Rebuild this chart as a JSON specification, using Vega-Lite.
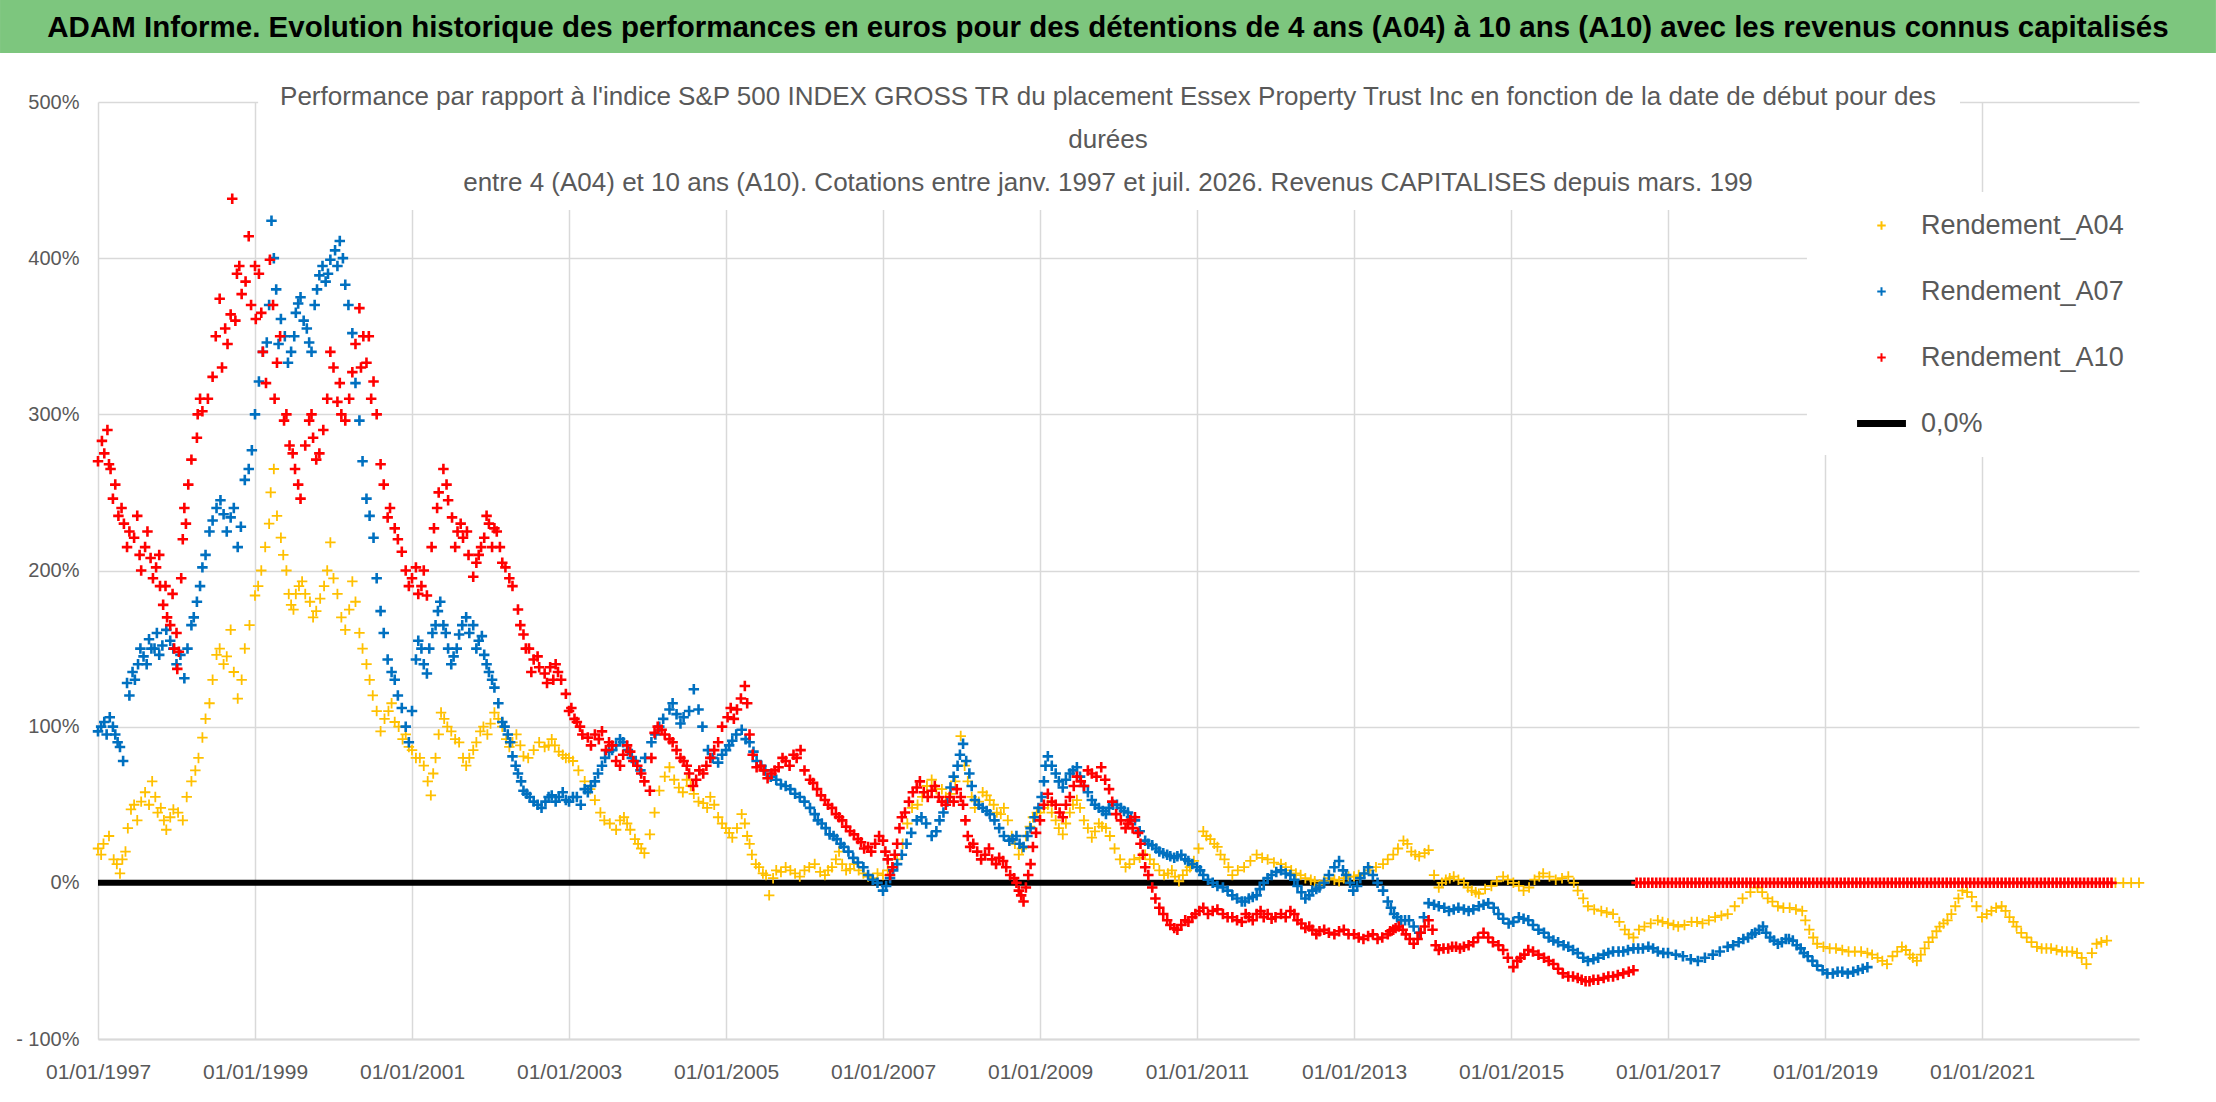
{
  "$schema": "https://vega.github.io/schema/vega-lite/v6.json",
  "autosize": {"type": "none"},
  "width": 2041,
  "height": 937,
  "padding": {"left": 98, "right": 77, "top": 102, "bottom": 63},
  "background": "white",
  "data": {
    "values": [
      {"s":"0,0%","t":1997.0,"v":0},{"s":"0,0%","t":2016.58,"v":0},
      {"s":"A04","t":1997.00,"v":22},{"s":"A04","t":1997.14,"v":30},{"s":"A04","t":1997.28,"v":6},{"s":"A04","t":1997.35,"v":20},{"s":"A04","t":1997.42,"v":47},{"s":"A04","t":1997.55,"v":52},{"s":"A04","t":1997.69,"v":65},{"s":"A04","t":1997.80,"v":48},{"s":"A04","t":1997.87,"v":34},{"s":"A04","t":1997.96,"v":47},
      {"s":"A04","t":1998.08,"v":40},{"s":"A04","t":1998.19,"v":65},{"s":"A04","t":1998.28,"v":80},{"s":"A04","t":1998.33,"v":93},{"s":"A04","t":1998.42,"v":115},{"s":"A04","t":1998.51,"v":146},{"s":"A04","t":1998.60,"v":140},{"s":"A04","t":1998.69,"v":162},{"s":"A04","t":1998.78,"v":118},{"s":"A04","t":1998.87,"v":150},
      {"s":"A04","t":1999.00,"v":184},{"s":"A04","t":1999.08,"v":200},{"s":"A04","t":1999.13,"v":215},{"s":"A04","t":1999.24,"v":265},{"s":"A04","t":1999.33,"v":221},{"s":"A04","t":1999.40,"v":200},{"s":"A04","t":1999.46,"v":178},{"s":"A04","t":1999.52,"v":185},{"s":"A04","t":1999.60,"v":193},{"s":"A04","t":1999.70,"v":180},{"s":"A04","t":1999.78,"v":174},{"s":"A04","t":1999.88,"v":190},{"s":"A04","t":1999.96,"v":218},
      {"s":"A04","t":2000.05,"v":185},{"s":"A04","t":2000.15,"v":162},{"s":"A04","t":2000.24,"v":193},{"s":"A04","t":2000.33,"v":160},{"s":"A04","t":2000.42,"v":140},{"s":"A04","t":2000.50,"v":120},{"s":"A04","t":2000.60,"v":97},{"s":"A04","t":2000.70,"v":110},{"s":"A04","t":2000.78,"v":103},{"s":"A04","t":2000.88,"v":92},{"s":"A04","t":2000.96,"v":87},
      {"s":"A04","t":2001.05,"v":80},{"s":"A04","t":2001.15,"v":75},{"s":"A04","t":2001.24,"v":56},{"s":"A04","t":2001.30,"v":80},{"s":"A04","t":2001.37,"v":109},{"s":"A04","t":2001.45,"v":100},{"s":"A04","t":2001.50,"v":97},{"s":"A04","t":2001.60,"v":90},{"s":"A04","t":2001.69,"v":75},{"s":"A04","t":2001.78,"v":85},{"s":"A04","t":2001.87,"v":97},{"s":"A04","t":2001.96,"v":95},
      {"s":"A04","t":2002.05,"v":109},{"s":"A04","t":2002.15,"v":100},{"s":"A04","t":2002.24,"v":87},{"s":"A04","t":2002.33,"v":95},{"s":"A04","t":2002.42,"v":81},{"s":"A04","t":2002.55,"v":85},{"s":"A04","t":2002.69,"v":87},{"s":"A04","t":2002.78,"v":92},{"s":"A04","t":2002.87,"v":84},{"s":"A04","t":2002.96,"v":80},
      {"s":"A04","t":2003.05,"v":78},{"s":"A04","t":2003.20,"v":65},{"s":"A04","t":2003.33,"v":53},{"s":"A04","t":2003.45,"v":40},{"s":"A04","t":2003.60,"v":34},{"s":"A04","t":2003.70,"v":42},{"s":"A04","t":2003.78,"v":34},{"s":"A04","t":2003.88,"v":25},{"s":"A04","t":2003.96,"v":19},
      {"s":"A04","t":2004.03,"v":31},{"s":"A04","t":2004.15,"v":59},{"s":"A04","t":2004.28,"v":74},{"s":"A04","t":2004.40,"v":61},{"s":"A04","t":2004.50,"v":66},{"s":"A04","t":2004.59,"v":57},{"s":"A04","t":2004.71,"v":51},{"s":"A04","t":2004.80,"v":55},{"s":"A04","t":2004.90,"v":42},
      {"s":"A04","t":2005.00,"v":35},{"s":"A04","t":2005.08,"v":29},{"s":"A04","t":2005.20,"v":44},{"s":"A04","t":2005.27,"v":30},{"s":"A04","t":2005.33,"v":18},{"s":"A04","t":2005.42,"v":10},{"s":"A04","t":2005.51,"v":5},{"s":"A04","t":2005.55,"v":-8},{"s":"A04","t":2005.64,"v":8},{"s":"A04","t":2005.76,"v":10},{"s":"A04","t":2005.88,"v":6},
      {"s":"A04","t":2006.00,"v":8},{"s":"A04","t":2006.13,"v":12},{"s":"A04","t":2006.26,"v":5},{"s":"A04","t":2006.35,"v":10},{"s":"A04","t":2006.44,"v":20},{"s":"A04","t":2006.53,"v":8},{"s":"A04","t":2006.63,"v":12},{"s":"A04","t":2006.75,"v":6},{"s":"A04","t":2006.87,"v":3},
      {"s":"A04","t":2007.00,"v":5},{"s":"A04","t":2007.12,"v":10},{"s":"A04","t":2007.25,"v":25},{"s":"A04","t":2007.37,"v":48},{"s":"A04","t":2007.50,"v":55},{"s":"A04","t":2007.62,"v":66},{"s":"A04","t":2007.75,"v":60},{"s":"A04","t":2007.86,"v":57},{"s":"A04","t":2007.99,"v":94},
      {"s":"A04","t":2008.08,"v":65},{"s":"A04","t":2008.17,"v":48},{"s":"A04","t":2008.27,"v":58},{"s":"A04","t":2008.36,"v":53},{"s":"A04","t":2008.45,"v":45},{"s":"A04","t":2008.54,"v":48},{"s":"A04","t":2008.64,"v":30},{"s":"A04","t":2008.73,"v":18},{"s":"A04","t":2008.82,"v":30},{"s":"A04","t":2008.91,"v":42},
      {"s":"A04","t":2009.00,"v":45},{"s":"A04","t":2009.10,"v":50},{"s":"A04","t":2009.20,"v":40},{"s":"A04","t":2009.29,"v":31},{"s":"A04","t":2009.38,"v":45},{"s":"A04","t":2009.47,"v":53},{"s":"A04","t":2009.56,"v":40},{"s":"A04","t":2009.66,"v":29},{"s":"A04","t":2009.75,"v":38},{"s":"A04","t":2009.84,"v":35},{"s":"A04","t":2009.95,"v":22},
      {"s":"A04","t":2010.09,"v":10},{"s":"A04","t":2010.20,"v":15},{"s":"A04","t":2010.34,"v":18},{"s":"A04","t":2010.45,"v":12},{"s":"A04","t":2010.58,"v":5},{"s":"A04","t":2010.68,"v":8},{"s":"A04","t":2010.77,"v":1},{"s":"A04","t":2010.87,"v":8},{"s":"A04","t":2010.96,"v":14},
      {"s":"A04","t":2011.08,"v":33},{"s":"A04","t":2011.17,"v":28},{"s":"A04","t":2011.26,"v":23},{"s":"A04","t":2011.35,"v":15},{"s":"A04","t":2011.45,"v":5},{"s":"A04","t":2011.60,"v":10},{"s":"A04","t":2011.76,"v":18},{"s":"A04","t":2011.90,"v":15},
      {"s":"A04","t":2012.07,"v":12},{"s":"A04","t":2012.20,"v":8},{"s":"A04","t":2012.32,"v":5},{"s":"A04","t":2012.45,"v":2},{"s":"A04","t":2012.56,"v":-1},{"s":"A04","t":2012.68,"v":3},{"s":"A04","t":2012.81,"v":1},{"s":"A04","t":2012.93,"v":4},
      {"s":"A04","t":2013.06,"v":5},{"s":"A04","t":2013.20,"v":8},{"s":"A04","t":2013.37,"v":12},{"s":"A04","t":2013.50,"v":18},{"s":"A04","t":2013.63,"v":27},{"s":"A04","t":2013.73,"v":20},{"s":"A04","t":2013.83,"v":17},{"s":"A04","t":2013.95,"v":21},
      {"s":"A04","t":2014.08,"v":-3},{"s":"A04","t":2014.17,"v":2},{"s":"A04","t":2014.27,"v":4},{"s":"A04","t":2014.40,"v":0},{"s":"A04","t":2014.50,"v":-5},{"s":"A04","t":2014.59,"v":-7},{"s":"A04","t":2014.75,"v":-2},{"s":"A04","t":2014.90,"v":4},
      {"s":"A04","t":2015.03,"v":0},{"s":"A04","t":2015.16,"v":-5},{"s":"A04","t":2015.30,"v":2},{"s":"A04","t":2015.41,"v":6},{"s":"A04","t":2015.57,"v":2},{"s":"A04","t":2015.73,"v":4},{"s":"A04","t":2015.85,"v":-5},{"s":"A04","t":2015.98,"v":-15},
      {"s":"A04","t":2016.15,"v":-18},{"s":"A04","t":2016.30,"v":-20},{"s":"A04","t":2016.45,"v":-30},{"s":"A04","t":2016.56,"v":-35},{"s":"A04","t":2016.70,"v":-28},{"s":"A04","t":2016.87,"v":-24},
      {"s":"A04","t":2017.00,"v":-26},{"s":"A04","t":2017.13,"v":-28},{"s":"A04","t":2017.30,"v":-25},{"s":"A04","t":2017.44,"v":-26},{"s":"A04","t":2017.60,"v":-22},{"s":"A04","t":2017.76,"v":-20},{"s":"A04","t":2017.95,"v":-10},
      {"s":"A04","t":2018.14,"v":-3},{"s":"A04","t":2018.27,"v":-10},{"s":"A04","t":2018.40,"v":-15},{"s":"A04","t":2018.55,"v":-16},{"s":"A04","t":2018.71,"v":-18},{"s":"A04","t":2018.80,"v":-30},{"s":"A04","t":2018.90,"v":-39},
      {"s":"A04","t":2019.06,"v":-42},{"s":"A04","t":2019.22,"v":-43},{"s":"A04","t":2019.38,"v":-44},{"s":"A04","t":2019.54,"v":-45},{"s":"A04","t":2019.67,"v":-48},{"s":"A04","t":2019.79,"v":-52},{"s":"A04","t":2019.98,"v":-41},
      {"s":"A04","t":2020.08,"v":-46},{"s":"A04","t":2020.17,"v":-50},{"s":"A04","t":2020.27,"v":-42},{"s":"A04","t":2020.37,"v":-35},{"s":"A04","t":2020.46,"v":-28},{"s":"A04","t":2020.56,"v":-24},{"s":"A04","t":2020.66,"v":-15},{"s":"A04","t":2020.75,"v":-5},{"s":"A04","t":2020.87,"v":-9},
      {"s":"A04","t":2021.00,"v":-22},{"s":"A04","t":2021.12,"v":-18},{"s":"A04","t":2021.25,"v":-15},{"s":"A04","t":2021.35,"v":-22},{"s":"A04","t":2021.44,"v":-28},{"s":"A04","t":2021.57,"v":-35},{"s":"A04","t":2021.70,"v":-41},{"s":"A04","t":2021.82,"v":-42},{"s":"A04","t":2021.95,"v":-43},
      {"s":"A04","t":2022.08,"v":-44},{"s":"A04","t":2022.21,"v":-45},{"s":"A04","t":2022.33,"v":-52},{"s":"A04","t":2022.46,"v":-39},{"s":"A04","t":2022.59,"v":-37},
      {"s":"A04","t":2022.70,"v":0},{"s":"A04","t":2022.80,"v":0},{"s":"A04","t":2022.90,"v":0},{"s":"A04","t":2023.00,"v":0},
      {"s":"A04","t":1997.04,"v":18},{"s":"A04","t":1997.07,"v":25},{"s":"A04","t":1997.20,"v":15},{"s":"A04","t":1997.24,"v":12},{"s":"A04","t":1997.31,"v":15},{"s":"A04","t":1997.38,"v":35},{"s":"A04","t":1997.46,"v":50},{"s":"A04","t":1997.50,"v":40},{"s":"A04","t":1997.60,"v":58},{"s":"A04","t":1997.65,"v":50},{"s":"A04","t":1997.73,"v":55},{"s":"A04","t":1997.76,"v":45},{"s":"A04","t":1997.84,"v":40},{"s":"A04","t":1997.92,"v":42},
      {"s":"A04","t":1998.02,"v":45},{"s":"A04","t":1998.13,"v":55},{"s":"A04","t":1998.24,"v":72},{"s":"A04","t":1998.37,"v":105},{"s":"A04","t":1998.46,"v":130},{"s":"A04","t":1998.55,"v":150},{"s":"A04","t":1998.64,"v":145},{"s":"A04","t":1998.73,"v":135},{"s":"A04","t":1998.83,"v":130},{"s":"A04","t":1998.93,"v":165},
      {"s":"A04","t":1999.04,"v":190},{"s":"A04","t":1999.18,"v":230},{"s":"A04","t":1999.20,"v":250},{"s":"A04","t":1999.28,"v":235},{"s":"A04","t":1999.36,"v":210},{"s":"A04","t":1999.43,"v":185},{"s":"A04","t":1999.49,"v":175},{"s":"A04","t":1999.56,"v":190},{"s":"A04","t":1999.64,"v":185},{"s":"A04","t":1999.74,"v":170},{"s":"A04","t":1999.83,"v":182},{"s":"A04","t":1999.92,"v":200},
      {"s":"A04","t":2000.00,"v":195},{"s":"A04","t":2000.10,"v":170},{"s":"A04","t":2000.20,"v":175},{"s":"A04","t":2000.28,"v":180},{"s":"A04","t":2000.37,"v":150},{"s":"A04","t":2000.46,"v":130},{"s":"A04","t":2000.55,"v":110},{"s":"A04","t":2000.65,"v":105},{"s":"A04","t":2000.74,"v":115},{"s":"A04","t":2000.83,"v":100},{"s":"A04","t":2000.92,"v":95},
      {"s":"A04","t":2001.00,"v":85},{"s":"A04","t":2001.10,"v":80},{"s":"A04","t":2001.20,"v":65},{"s":"A04","t":2001.27,"v":70},{"s":"A04","t":2001.34,"v":95},{"s":"A04","t":2001.41,"v":105},{"s":"A04","t":2001.55,"v":92},{"s":"A04","t":2001.65,"v":80},{"s":"A04","t":2001.73,"v":80},{"s":"A04","t":2001.82,"v":90},{"s":"A04","t":2001.91,"v":100},
      {"s":"A04","t":2002.00,"v":102},{"s":"A04","t":2002.10,"v":105},{"s":"A04","t":2002.20,"v":92},{"s":"A04","t":2002.28,"v":90},{"s":"A04","t":2002.38,"v":88},{"s":"A04","t":2002.48,"v":80},{"s":"A04","t":2002.62,"v":90},{"s":"A04","t":2002.74,"v":88},{"s":"A04","t":2002.82,"v":88},{"s":"A04","t":2002.92,"v":82},
      {"s":"A04","t":2003.00,"v":80},{"s":"A04","t":2003.12,"v":72},{"s":"A04","t":2003.27,"v":60},{"s":"A04","t":2003.40,"v":45},{"s":"A04","t":2003.52,"v":38},{"s":"A04","t":2003.65,"v":40},{"s":"A04","t":2003.74,"v":38},{"s":"A04","t":2003.84,"v":28},{"s":"A04","t":2003.92,"v":22},
      {"s":"A04","t":2004.09,"v":45},{"s":"A04","t":2004.22,"v":68},{"s":"A04","t":2004.34,"v":66},{"s":"A04","t":2004.45,"v":58},{"s":"A04","t":2004.55,"v":62},{"s":"A04","t":2004.65,"v":52},{"s":"A04","t":2004.76,"v":48},{"s":"A04","t":2004.85,"v":50},{"s":"A04","t":2004.95,"v":38},
      {"s":"A04","t":2005.04,"v":32},{"s":"A04","t":2005.14,"v":35},{"s":"A04","t":2005.24,"v":38},{"s":"A04","t":2005.30,"v":25},{"s":"A04","t":2005.38,"v":12},{"s":"A04","t":2005.47,"v":6},{"s":"A04","t":2005.60,"v":3},{"s":"A04","t":2005.70,"v":7},{"s":"A04","t":2005.82,"v":8},{"s":"A04","t":2005.94,"v":4},
      {"s":"A04","t":2006.06,"v":10},{"s":"A04","t":2006.20,"v":7},{"s":"A04","t":2006.30,"v":8},{"s":"A04","t":2006.40,"v":15},{"s":"A04","t":2006.48,"v":12},{"s":"A04","t":2006.58,"v":9},{"s":"A04","t":2006.69,"v":8},{"s":"A04","t":2006.81,"v":4},{"s":"A04","t":2006.93,"v":6},
      {"s":"A04","t":2007.06,"v":8},{"s":"A04","t":2007.18,"v":15},{"s":"A04","t":2007.31,"v":38},{"s":"A04","t":2007.44,"v":50},{"s":"A04","t":2007.56,"v":62},{"s":"A04","t":2007.68,"v":60},{"s":"A04","t":2007.80,"v":55},{"s":"A04","t":2007.92,"v":65},
      {"s":"A04","t":2008.04,"v":75},{"s":"A04","t":2008.13,"v":55},{"s":"A04","t":2008.22,"v":52},{"s":"A04","t":2008.32,"v":56},{"s":"A04","t":2008.41,"v":50},{"s":"A04","t":2008.50,"v":44},{"s":"A04","t":2008.59,"v":40},{"s":"A04","t":2008.68,"v":25},{"s":"A04","t":2008.77,"v":22},{"s":"A04","t":2008.87,"v":36},{"s":"A04","t":2008.96,"v":45},
      {"s":"A04","t":2009.05,"v":48},{"s":"A04","t":2009.15,"v":45},{"s":"A04","t":2009.24,"v":35},{"s":"A04","t":2009.33,"v":38},{"s":"A04","t":2009.42,"v":50},{"s":"A04","t":2009.51,"v":48},{"s":"A04","t":2009.61,"v":35},{"s":"A04","t":2009.70,"v":33},{"s":"A04","t":2009.79,"v":36},{"s":"A04","t":2009.89,"v":30},{"s":"A04","t":2010.02,"v":15},
      {"s":"A04","t":2010.14,"v":12},{"s":"A04","t":2010.27,"v":16},{"s":"A04","t":2010.40,"v":15},{"s":"A04","t":2010.52,"v":8},{"s":"A04","t":2010.63,"v":6},{"s":"A04","t":2010.72,"v":4},{"s":"A04","t":2010.82,"v":5},{"s":"A04","t":2010.91,"v":10},{"s":"A04","t":2011.02,"v":22},{"s":"A04","t":2011.12,"v":30},{"s":"A04","t":2011.22,"v":25},{"s":"A04","t":2011.30,"v":18},{"s":"A04","t":2011.40,"v":10},{"s":"A04","t":2011.52,"v":8},{"s":"A04","t":2011.68,"v":14},{"s":"A04","t":2011.83,"v":16},{"s":"A04","t":2011.98,"v":13},
      {"s":"A04","t":2012.13,"v":10},{"s":"A04","t":2012.26,"v":6},{"s":"A04","t":2012.38,"v":3},{"s":"A04","t":2012.50,"v":1},{"s":"A04","t":2012.62,"v":1},{"s":"A04","t":2012.75,"v":2},{"s":"A04","t":2012.87,"v":3},{"s":"A04","t":2013.00,"v":4},{"s":"A04","t":2013.13,"v":6},{"s":"A04","t":2013.28,"v":10},{"s":"A04","t":2013.43,"v":15},{"s":"A04","t":2013.56,"v":22},
      {"s":"A04","t":2013.68,"v":25},{"s":"A04","t":2013.78,"v":18},{"s":"A04","t":2013.90,"v":19},{"s":"A04","t":2014.02,"v":5},{"s":"A04","t":2014.12,"v":0},{"s":"A04","t":2014.22,"v":3},{"s":"A04","t":2014.33,"v":2},{"s":"A04","t":2014.45,"v":-3},{"s":"A04","t":2014.55,"v":-6},{"s":"A04","t":2014.67,"v":-4},{"s":"A04","t":2014.82,"v":1},{"s":"A04","t":2014.96,"v":2},
      {"s":"A04","t":2015.10,"v":-2},{"s":"A04","t":2015.23,"v":-3},{"s":"A04","t":2015.36,"v":4},{"s":"A04","t":2015.49,"v":4},{"s":"A04","t":2015.65,"v":3},{"s":"A04","t":2015.80,"v":0},{"s":"A04","t":2015.92,"v":-10},{"s":"A04","t":2016.06,"v":-17},{"s":"A04","t":2016.22,"v":-19},{"s":"A04","t":2016.38,"v":-25},{"s":"A04","t":2016.50,"v":-33},{"s":"A04","t":2016.63,"v":-30},{"s":"A04","t":2016.78,"v":-26},{"s":"A04","t":2016.93,"v":-25},
      {"s":"A04","t":2017.07,"v":-27},{"s":"A04","t":2017.21,"v":-27},{"s":"A04","t":2017.37,"v":-25},{"s":"A04","t":2017.52,"v":-24},{"s":"A04","t":2017.68,"v":-21},{"s":"A04","t":2017.85,"v":-15},{"s":"A04","t":2018.05,"v":-6},{"s":"A04","t":2018.20,"v":-6},{"s":"A04","t":2018.33,"v":-12},{"s":"A04","t":2018.47,"v":-16},{"s":"A04","t":2018.63,"v":-17},{"s":"A04","t":2018.75,"v":-24},{"s":"A04","t":2018.85,"v":-35},{"s":"A04","t":2018.98,"v":-41},
      {"s":"A04","t":2019.14,"v":-42},{"s":"A04","t":2019.30,"v":-44},{"s":"A04","t":2019.46,"v":-44},{"s":"A04","t":2019.60,"v":-46},{"s":"A04","t":2019.73,"v":-50},{"s":"A04","t":2019.86,"v":-47},{"s":"A04","t":2019.92,"v":-44},{"s":"A04","t":2020.03,"v":-43},{"s":"A04","t":2020.12,"v":-48},{"s":"A04","t":2020.22,"v":-46},{"s":"A04","t":2020.32,"v":-38},{"s":"A04","t":2020.42,"v":-31},{"s":"A04","t":2020.51,"v":-26},{"s":"A04","t":2020.61,"v":-20},{"s":"A04","t":2020.70,"v":-10},{"s":"A04","t":2020.81,"v":-6},{"s":"A04","t":2020.93,"v":-15},
      {"s":"A04","t":2021.06,"v":-20},{"s":"A04","t":2021.18,"v":-16},{"s":"A04","t":2021.30,"v":-18},{"s":"A04","t":2021.40,"v":-25},{"s":"A04","t":2021.50,"v":-32},{"s":"A04","t":2021.63,"v":-38},{"s":"A04","t":2021.76,"v":-42},{"s":"A04","t":2021.88,"v":-42},{"s":"A04","t":2022.02,"v":-44},{"s":"A04","t":2022.15,"v":-44},{"s":"A04","t":2022.27,"v":-48},{"s":"A04","t":2022.40,"v":-45},{"s":"A04","t":2022.52,"v":-38},
      {"s":"A07","t":1997.00,"v":97},{"s":"A07","t":1997.08,"v":103},{"s":"A07","t":1997.15,"v":106},{"s":"A07","t":1997.22,"v":95},{"s":"A07","t":1997.28,"v":87},{"s":"A07","t":1997.32,"v":78},{"s":"A07","t":1997.37,"v":128},{"s":"A07","t":1997.44,"v":135},{"s":"A07","t":1997.51,"v":140},{"s":"A07","t":1997.58,"v":145},{"s":"A07","t":1997.65,"v":156},{"s":"A07","t":1997.72,"v":150},{"s":"A07","t":1997.78,"v":146},{"s":"A07","t":1997.87,"v":162},{"s":"A07","t":1997.96,"v":150},
      {"s":"A07","t":1998.05,"v":146},{"s":"A07","t":1998.10,"v":131},{"s":"A07","t":1998.19,"v":165},{"s":"A07","t":1998.26,"v":180},{"s":"A07","t":1998.33,"v":202},{"s":"A07","t":1998.42,"v":225},{"s":"A07","t":1998.51,"v":240},{"s":"A07","t":1998.60,"v":236},{"s":"A07","t":1998.69,"v":234},{"s":"A07","t":1998.78,"v":215},{"s":"A07","t":1998.87,"v":258},{"s":"A07","t":1998.96,"v":277},
      {"s":"A07","t":1999.05,"v":321},{"s":"A07","t":1999.15,"v":346},{"s":"A07","t":1999.21,"v":424},{"s":"A07","t":1999.27,"v":380},{"s":"A07","t":1999.33,"v":361},{"s":"A07","t":1999.42,"v":333},{"s":"A07","t":1999.50,"v":350},{"s":"A07","t":1999.55,"v":371},{"s":"A07","t":1999.62,"v":360},{"s":"A07","t":1999.69,"v":346},{"s":"A07","t":1999.76,"v":370},{"s":"A07","t":1999.82,"v":389},{"s":"A07","t":1999.90,"v":385},{"s":"A07","t":1999.96,"v":399},
      {"s":"A07","t":2000.08,"v":411},{"s":"A07","t":2000.15,"v":383},{"s":"A07","t":2000.24,"v":352},{"s":"A07","t":2000.33,"v":296},{"s":"A07","t":2000.42,"v":246},{"s":"A07","t":2000.51,"v":221},{"s":"A07","t":2000.60,"v":174},{"s":"A07","t":2000.69,"v":143},{"s":"A07","t":2000.78,"v":130},{"s":"A07","t":2000.87,"v":112},{"s":"A07","t":2000.96,"v":90},
      {"s":"A07","t":2001.05,"v":143},{"s":"A07","t":2001.12,"v":150},{"s":"A07","t":2001.19,"v":134},{"s":"A07","t":2001.26,"v":160},{"s":"A07","t":2001.33,"v":174},{"s":"A07","t":2001.40,"v":165},{"s":"A07","t":2001.46,"v":150},{"s":"A07","t":2001.53,"v":145},{"s":"A07","t":2001.60,"v":159},{"s":"A07","t":2001.69,"v":170},{"s":"A07","t":2001.78,"v":165},{"s":"A07","t":2001.85,"v":155},{"s":"A07","t":2001.92,"v":146},{"s":"A07","t":2001.98,"v":135},
      {"s":"A07","t":2002.05,"v":125},{"s":"A07","t":2002.15,"v":103},{"s":"A07","t":2002.22,"v":95},{"s":"A07","t":2002.28,"v":81},{"s":"A07","t":2002.35,"v":70},{"s":"A07","t":2002.42,"v":59},{"s":"A07","t":2002.50,"v":55},{"s":"A07","t":2002.60,"v":50},{"s":"A07","t":2002.70,"v":52},{"s":"A07","t":2002.78,"v":56},{"s":"A07","t":2002.87,"v":55},{"s":"A07","t":2002.96,"v":53},
      {"s":"A07","t":2003.05,"v":55},{"s":"A07","t":2003.15,"v":50},{"s":"A07","t":2003.24,"v":58},{"s":"A07","t":2003.33,"v":65},{"s":"A07","t":2003.42,"v":75},{"s":"A07","t":2003.51,"v":84},{"s":"A07","t":2003.60,"v":88},{"s":"A07","t":2003.69,"v":90},{"s":"A07","t":2003.80,"v":80},{"s":"A07","t":2003.91,"v":72},
      {"s":"A07","t":2004.05,"v":90},{"s":"A07","t":2004.15,"v":100},{"s":"A07","t":2004.28,"v":111},{"s":"A07","t":2004.37,"v":108},{"s":"A07","t":2004.46,"v":106},{"s":"A07","t":2004.59,"v":124},{"s":"A07","t":2004.65,"v":111},{"s":"A07","t":2004.77,"v":85},{"s":"A07","t":2004.90,"v":77},
      {"s":"A07","t":2005.00,"v":85},{"s":"A07","t":2005.08,"v":91},{"s":"A07","t":2005.20,"v":98},{"s":"A07","t":2005.30,"v":90},{"s":"A07","t":2005.39,"v":78},{"s":"A07","t":2005.50,"v":72},{"s":"A07","t":2005.64,"v":66},{"s":"A07","t":2005.76,"v":62},{"s":"A07","t":2005.88,"v":57},
      {"s":"A07","t":2006.00,"v":52},{"s":"A07","t":2006.13,"v":44},{"s":"A07","t":2006.22,"v":38},{"s":"A07","t":2006.32,"v":31},{"s":"A07","t":2006.41,"v":28},{"s":"A07","t":2006.50,"v":23},{"s":"A07","t":2006.62,"v":16},{"s":"A07","t":2006.75,"v":10},{"s":"A07","t":2006.87,"v":2},
      {"s":"A07","t":2007.00,"v":-5},{"s":"A07","t":2007.09,"v":3},{"s":"A07","t":2007.18,"v":12},{"s":"A07","t":2007.30,"v":25},{"s":"A07","t":2007.43,"v":40},{"s":"A07","t":2007.55,"v":38},{"s":"A07","t":2007.68,"v":33},{"s":"A07","t":2007.77,"v":45},{"s":"A07","t":2007.86,"v":61},{"s":"A07","t":2007.95,"v":75},
      {"s":"A07","t":2008.02,"v":89},{"s":"A07","t":2008.10,"v":70},{"s":"A07","t":2008.17,"v":53},{"s":"A07","t":2008.27,"v":48},{"s":"A07","t":2008.36,"v":44},{"s":"A07","t":2008.48,"v":35},{"s":"A07","t":2008.61,"v":27},{"s":"A07","t":2008.70,"v":30},{"s":"A07","t":2008.79,"v":23},{"s":"A07","t":2008.88,"v":35},{"s":"A07","t":2008.98,"v":48},
      {"s":"A07","t":2009.05,"v":65},{"s":"A07","t":2009.10,"v":81},{"s":"A07","t":2009.20,"v":70},{"s":"A07","t":2009.29,"v":61},{"s":"A07","t":2009.38,"v":70},{"s":"A07","t":2009.47,"v":74},{"s":"A07","t":2009.56,"v":62},{"s":"A07","t":2009.66,"v":53},{"s":"A07","t":2009.75,"v":48},{"s":"A07","t":2009.84,"v":44},{"s":"A07","t":2009.93,"v":50},
      {"s":"A07","t":2010.03,"v":48},{"s":"A07","t":2010.12,"v":45},{"s":"A07","t":2010.21,"v":40},{"s":"A07","t":2010.34,"v":27},{"s":"A07","t":2010.43,"v":24},{"s":"A07","t":2010.52,"v":20},{"s":"A07","t":2010.62,"v":18},{"s":"A07","t":2010.71,"v":16},{"s":"A07","t":2010.80,"v":18},{"s":"A07","t":2010.89,"v":14},
      {"s":"A07","t":2011.00,"v":10},{"s":"A07","t":2011.08,"v":5},{"s":"A07","t":2011.20,"v":0},{"s":"A07","t":2011.33,"v":-3},{"s":"A07","t":2011.45,"v":-8},{"s":"A07","t":2011.57,"v":-12},{"s":"A07","t":2011.66,"v":-10},{"s":"A07","t":2011.76,"v":-8},{"s":"A07","t":2011.85,"v":0},{"s":"A07","t":2011.95,"v":5},
      {"s":"A07","t":2012.07,"v":8},{"s":"A07","t":2012.19,"v":5},{"s":"A07","t":2012.28,"v":-2},{"s":"A07","t":2012.38,"v":-10},{"s":"A07","t":2012.47,"v":-5},{"s":"A07","t":2012.56,"v":-3},{"s":"A07","t":2012.68,"v":5},{"s":"A07","t":2012.81,"v":14},{"s":"A07","t":2012.90,"v":5},{"s":"A07","t":2012.99,"v":-5},
      {"s":"A07","t":2013.08,"v":3},{"s":"A07","t":2013.18,"v":10},{"s":"A07","t":2013.30,"v":0},{"s":"A07","t":2013.43,"v":-12},{"s":"A07","t":2013.51,"v":-20},{"s":"A07","t":2013.60,"v":-24},{"s":"A07","t":2013.70,"v":-24},{"s":"A07","t":2013.83,"v":-32},{"s":"A07","t":2013.95,"v":-13},
      {"s":"A07","t":2014.08,"v":-15},{"s":"A07","t":2014.21,"v":-18},{"s":"A07","t":2014.33,"v":-16},{"s":"A07","t":2014.46,"v":-18},{"s":"A07","t":2014.59,"v":-15},{"s":"A07","t":2014.71,"v":-13},{"s":"A07","t":2014.84,"v":-20},{"s":"A07","t":2014.97,"v":-26},
      {"s":"A07","t":2015.10,"v":-22},{"s":"A07","t":2015.22,"v":-24},{"s":"A07","t":2015.35,"v":-30},{"s":"A07","t":2015.48,"v":-35},{"s":"A07","t":2015.60,"v":-38},{"s":"A07","t":2015.73,"v":-41},{"s":"A07","t":2015.85,"v":-45},{"s":"A07","t":2015.98,"v":-50},
      {"s":"A07","t":2016.11,"v":-48},{"s":"A07","t":2016.24,"v":-45},{"s":"A07","t":2016.37,"v":-44},{"s":"A07","t":2016.49,"v":-43},{"s":"A07","t":2016.62,"v":-42},{"s":"A07","t":2016.75,"v":-41},{"s":"A07","t":2016.87,"v":-44},
      {"s":"A07","t":2017.00,"v":-45},{"s":"A07","t":2017.19,"v":-47},{"s":"A07","t":2017.38,"v":-50},{"s":"A07","t":2017.57,"v":-46},{"s":"A07","t":2017.76,"v":-41},{"s":"A07","t":2017.90,"v":-38},
      {"s":"A07","t":2018.02,"v":-35},{"s":"A07","t":2018.11,"v":-32},{"s":"A07","t":2018.21,"v":-28},{"s":"A07","t":2018.30,"v":-35},{"s":"A07","t":2018.40,"v":-39},{"s":"A07","t":2018.50,"v":-36},{"s":"A07","t":2018.59,"v":-37},{"s":"A07","t":2018.69,"v":-42},{"s":"A07","t":2018.78,"v":-47},{"s":"A07","t":2018.90,"v":-53},
      {"s":"A07","t":2019.03,"v":-58},{"s":"A07","t":2019.16,"v":-57},{"s":"A07","t":2019.29,"v":-58},{"s":"A07","t":2019.42,"v":-56},{"s":"A07","t":2019.54,"v":-54},
      {"s":"A07","t":1997.04,"v":100},{"s":"A07","t":1997.11,"v":95},{"s":"A07","t":1997.19,"v":100},{"s":"A07","t":1997.25,"v":90},{"s":"A07","t":1997.40,"v":120},{"s":"A07","t":1997.47,"v":130},{"s":"A07","t":1997.54,"v":150},{"s":"A07","t":1997.62,"v":140},{"s":"A07","t":1997.68,"v":150},{"s":"A07","t":1997.75,"v":160},{"s":"A07","t":1997.82,"v":152},{"s":"A07","t":1997.92,"v":155},
      {"s":"A07","t":1998.00,"v":140},{"s":"A07","t":1998.14,"v":150},{"s":"A07","t":1998.22,"v":170},{"s":"A07","t":1998.30,"v":190},{"s":"A07","t":1998.37,"v":210},{"s":"A07","t":1998.46,"v":232},{"s":"A07","t":1998.56,"v":245},{"s":"A07","t":1998.64,"v":225},{"s":"A07","t":1998.73,"v":240},{"s":"A07","t":1998.82,"v":228},{"s":"A07","t":1998.92,"v":265},
      {"s":"A07","t":1999.00,"v":300},{"s":"A07","t":1999.10,"v":340},{"s":"A07","t":1999.18,"v":370},{"s":"A07","t":1999.24,"v":400},{"s":"A07","t":1999.30,"v":345},{"s":"A07","t":1999.38,"v":350},{"s":"A07","t":1999.46,"v":340},{"s":"A07","t":1999.52,"v":365},{"s":"A07","t":1999.58,"v":375},{"s":"A07","t":1999.66,"v":355},{"s":"A07","t":1999.72,"v":340},{"s":"A07","t":1999.79,"v":380},{"s":"A07","t":1999.86,"v":395},{"s":"A07","t":1999.93,"v":390},
      {"s":"A07","t":2000.02,"v":405},{"s":"A07","t":2000.05,"v":395},{"s":"A07","t":2000.12,"v":400},{"s":"A07","t":2000.19,"v":370},{"s":"A07","t":2000.28,"v":320},{"s":"A07","t":2000.37,"v":270},{"s":"A07","t":2000.46,"v":235},{"s":"A07","t":2000.55,"v":195},{"s":"A07","t":2000.64,"v":160},{"s":"A07","t":2000.74,"v":135},{"s":"A07","t":2000.82,"v":120},{"s":"A07","t":2000.92,"v":100},
      {"s":"A07","t":2001.00,"v":110},{"s":"A07","t":2001.08,"v":155},{"s":"A07","t":2001.15,"v":140},{"s":"A07","t":2001.22,"v":150},{"s":"A07","t":2001.30,"v":165},{"s":"A07","t":2001.36,"v":180},{"s":"A07","t":2001.43,"v":160},{"s":"A07","t":2001.50,"v":140},{"s":"A07","t":2001.57,"v":150},{"s":"A07","t":2001.64,"v":165},{"s":"A07","t":2001.73,"v":160},{"s":"A07","t":2001.82,"v":150},{"s":"A07","t":2001.89,"v":158},{"s":"A07","t":2001.95,"v":140},
      {"s":"A07","t":2002.02,"v":130},{"s":"A07","t":2002.10,"v":115},{"s":"A07","t":2002.18,"v":100},{"s":"A07","t":2002.25,"v":90},{"s":"A07","t":2002.32,"v":75},{"s":"A07","t":2002.39,"v":65},{"s":"A07","t":2002.46,"v":57},{"s":"A07","t":2002.55,"v":52},{"s":"A07","t":2002.65,"v":48},{"s":"A07","t":2002.74,"v":55},{"s":"A07","t":2002.83,"v":52},{"s":"A07","t":2002.92,"v":58},
      {"s":"A07","t":2003.00,"v":52},{"s":"A07","t":2003.10,"v":55},{"s":"A07","t":2003.20,"v":60},{"s":"A07","t":2003.28,"v":62},{"s":"A07","t":2003.37,"v":70},{"s":"A07","t":2003.46,"v":80},{"s":"A07","t":2003.55,"v":85},{"s":"A07","t":2003.65,"v":92},{"s":"A07","t":2003.75,"v":85},{"s":"A07","t":2003.85,"v":78},{"s":"A07","t":2003.97,"v":80},
      {"s":"A07","t":2004.10,"v":95},{"s":"A07","t":2004.20,"v":105},{"s":"A07","t":2004.32,"v":115},{"s":"A07","t":2004.42,"v":102},{"s":"A07","t":2004.53,"v":110},{"s":"A07","t":2004.70,"v":100},{"s":"A07","t":2004.83,"v":80},{"s":"A07","t":2004.95,"v":82},
      {"s":"A07","t":2005.04,"v":88},{"s":"A07","t":2005.13,"v":95},{"s":"A07","t":2005.25,"v":92},{"s":"A07","t":2005.35,"v":84},{"s":"A07","t":2005.45,"v":75},{"s":"A07","t":2005.57,"v":68},{"s":"A07","t":2005.70,"v":63},{"s":"A07","t":2005.82,"v":60},{"s":"A07","t":2005.94,"v":55},
      {"s":"A07","t":2006.07,"v":48},{"s":"A07","t":2006.17,"v":40},{"s":"A07","t":2006.27,"v":35},{"s":"A07","t":2006.37,"v":30},{"s":"A07","t":2006.46,"v":25},{"s":"A07","t":2006.56,"v":20},{"s":"A07","t":2006.68,"v":13},{"s":"A07","t":2006.81,"v":5},{"s":"A07","t":2006.93,"v":0},
      {"s":"A07","t":2007.04,"v":-2},{"s":"A07","t":2007.13,"v":8},{"s":"A07","t":2007.24,"v":18},{"s":"A07","t":2007.36,"v":32},{"s":"A07","t":2007.49,"v":42},{"s":"A07","t":2007.62,"v":30},{"s":"A07","t":2007.72,"v":40},{"s":"A07","t":2007.82,"v":52},{"s":"A07","t":2007.90,"v":68},{"s":"A07","t":2007.98,"v":82},
      {"s":"A07","t":2008.06,"v":78},{"s":"A07","t":2008.13,"v":62},{"s":"A07","t":2008.22,"v":50},{"s":"A07","t":2008.32,"v":46},{"s":"A07","t":2008.42,"v":40},{"s":"A07","t":2008.54,"v":30},{"s":"A07","t":2008.65,"v":28},{"s":"A07","t":2008.74,"v":25},{"s":"A07","t":2008.84,"v":30},{"s":"A07","t":2008.93,"v":42},
      {"s":"A07","t":2009.02,"v":55},{"s":"A07","t":2009.07,"v":75},{"s":"A07","t":2009.15,"v":75},{"s":"A07","t":2009.24,"v":65},{"s":"A07","t":2009.33,"v":66},{"s":"A07","t":2009.42,"v":72},{"s":"A07","t":2009.51,"v":68},{"s":"A07","t":2009.61,"v":58},{"s":"A07","t":2009.70,"v":50},{"s":"A07","t":2009.80,"v":46},{"s":"A07","t":2009.88,"v":48},{"s":"A07","t":2009.98,"v":50},
      {"s":"A07","t":2010.07,"v":46},{"s":"A07","t":2010.16,"v":42},{"s":"A07","t":2010.27,"v":33},{"s":"A07","t":2010.38,"v":25},{"s":"A07","t":2010.48,"v":22},{"s":"A07","t":2010.57,"v":19},{"s":"A07","t":2010.66,"v":17},{"s":"A07","t":2010.75,"v":17},{"s":"A07","t":2010.85,"v":15},{"s":"A07","t":2010.94,"v":12},
      {"s":"A07","t":2011.04,"v":8},{"s":"A07","t":2011.14,"v":2},{"s":"A07","t":2011.26,"v":-2},{"s":"A07","t":2011.39,"v":-5},{"s":"A07","t":2011.51,"v":-10},{"s":"A07","t":2011.61,"v":-12},{"s":"A07","t":2011.71,"v":-9},{"s":"A07","t":2011.80,"v":-4},{"s":"A07","t":2011.90,"v":3},{"s":"A07","t":2012.01,"v":7},{"s":"A07","t":2012.13,"v":6},{"s":"A07","t":2012.24,"v":2},{"s":"A07","t":2012.33,"v":-6},{"s":"A07","t":2012.43,"v":-8},{"s":"A07","t":2012.52,"v":-4},{"s":"A07","t":2012.62,"v":0},{"s":"A07","t":2012.75,"v":10},{"s":"A07","t":2012.86,"v":8},{"s":"A07","t":2012.95,"v":0},{"s":"A07","t":2013.04,"v":-2},{"s":"A07","t":2013.13,"v":6},{"s":"A07","t":2013.24,"v":5},{"s":"A07","t":2013.37,"v":-5},
      {"s":"A07","t":2013.47,"v":-16},{"s":"A07","t":2013.55,"v":-22},{"s":"A07","t":2013.65,"v":-24},{"s":"A07","t":2013.76,"v":-28},{"s":"A07","t":2013.89,"v":-22},{"s":"A07","t":2014.02,"v":-14},{"s":"A07","t":2014.15,"v":-16},{"s":"A07","t":2014.27,"v":-17},{"s":"A07","t":2014.40,"v":-17},{"s":"A07","t":2014.52,"v":-17},{"s":"A07","t":2014.65,"v":-14},{"s":"A07","t":2014.78,"v":-16},{"s":"A07","t":2014.90,"v":-23},
      {"s":"A07","t":2015.03,"v":-25},{"s":"A07","t":2015.16,"v":-23},{"s":"A07","t":2015.28,"v":-27},{"s":"A07","t":2015.42,"v":-32},{"s":"A07","t":2015.54,"v":-37},{"s":"A07","t":2015.67,"v":-40},{"s":"A07","t":2015.79,"v":-43},{"s":"A07","t":2015.92,"v":-48},{"s":"A07","t":2016.05,"v":-49},{"s":"A07","t":2016.18,"v":-46},{"s":"A07","t":2016.30,"v":-44},{"s":"A07","t":2016.43,"v":-44},{"s":"A07","t":2016.56,"v":-42},{"s":"A07","t":2016.68,"v":-42},{"s":"A07","t":2016.81,"v":-42},{"s":"A07","t":2016.94,"v":-45},
      {"s":"A07","t":2017.10,"v":-46},{"s":"A07","t":2017.29,"v":-49},{"s":"A07","t":2017.47,"v":-48},{"s":"A07","t":2017.66,"v":-44},{"s":"A07","t":2017.83,"v":-40},{"s":"A07","t":2017.96,"v":-36},{"s":"A07","t":2018.07,"v":-33},{"s":"A07","t":2018.16,"v":-30},{"s":"A07","t":2018.25,"v":-32},{"s":"A07","t":2018.35,"v":-37},{"s":"A07","t":2018.45,"v":-38},{"s":"A07","t":2018.54,"v":-36},{"s":"A07","t":2018.64,"v":-40},{"s":"A07","t":2018.73,"v":-45},{"s":"A07","t":2018.84,"v":-50},{"s":"A07","t":2018.97,"v":-56},{"s":"A07","t":2019.10,"v":-58},{"s":"A07","t":2019.22,"v":-57},{"s":"A07","t":2019.36,"v":-57},{"s":"A07","t":2019.48,"v":-55},
      {"s":"A10","t":1997.00,"v":270},{"s":"A10","t":1997.05,"v":283},{"s":"A10","t":1997.12,"v":290},{"s":"A10","t":1997.16,"v":265},{"s":"A10","t":1997.19,"v":246},{"s":"A10","t":1997.26,"v":235},{"s":"A10","t":1997.33,"v":230},{"s":"A10","t":1997.40,"v":225},{"s":"A10","t":1997.46,"v":221},{"s":"A10","t":1997.53,"v":210},{"s":"A10","t":1997.60,"v":215},{"s":"A10","t":1997.67,"v":208},{"s":"A10","t":1997.74,"v":202},{"s":"A10","t":1997.79,"v":190},{"s":"A10","t":1997.83,"v":178},{"s":"A10","t":1997.88,"v":170},{"s":"A10","t":1997.92,"v":165},{"s":"A10","t":1997.97,"v":150},
      {"s":"A10","t":1998.01,"v":137},{"s":"A10","t":1998.06,"v":195},{"s":"A10","t":1998.10,"v":240},{"s":"A10","t":1998.15,"v":255},{"s":"A10","t":1998.19,"v":271},{"s":"A10","t":1998.26,"v":285},{"s":"A10","t":1998.33,"v":302},{"s":"A10","t":1998.40,"v":310},{"s":"A10","t":1998.46,"v":324},{"s":"A10","t":1998.55,"v":374},{"s":"A10","t":1998.62,"v":355},{"s":"A10","t":1998.69,"v":364},{"s":"A10","t":1998.71,"v":438},{"s":"A10","t":1998.77,"v":390},{"s":"A10","t":1998.83,"v":377},{"s":"A10","t":1998.92,"v":414},
      {"s":"A10","t":1999.01,"v":361},{"s":"A10","t":1999.05,"v":390},{"s":"A10","t":1999.10,"v":340},{"s":"A10","t":1999.19,"v":399},{"s":"A10","t":1999.23,"v":370},{"s":"A10","t":1999.28,"v":333},{"s":"A10","t":1999.37,"v":296},{"s":"A10","t":1999.44,"v":280},{"s":"A10","t":1999.51,"v":265},{"s":"A10","t":1999.58,"v":246},{"s":"A10","t":1999.64,"v":280},{"s":"A10","t":1999.69,"v":296},{"s":"A10","t":1999.74,"v":285},{"s":"A10","t":1999.78,"v":271},{"s":"A10","t":1999.87,"v":290},{"s":"A10","t":1999.96,"v":340},
      {"s":"A10","t":2000.05,"v":308},{"s":"A10","t":2000.10,"v":300},{"s":"A10","t":2000.15,"v":296},{"s":"A10","t":2000.24,"v":327},{"s":"A10","t":2000.33,"v":368},{"s":"A10","t":2000.38,"v":350},{"s":"A10","t":2000.42,"v":333},{"s":"A10","t":2000.51,"v":321},{"s":"A10","t":2000.55,"v":300},{"s":"A10","t":2000.60,"v":268},{"s":"A10","t":2000.69,"v":234},{"s":"A10","t":2000.78,"v":227},{"s":"A10","t":2000.87,"v":212},{"s":"A10","t":2000.96,"v":190},
      {"s":"A10","t":2001.05,"v":202},{"s":"A10","t":2001.12,"v":190},{"s":"A10","t":2001.19,"v":184},{"s":"A10","t":2001.28,"v":227},{"s":"A10","t":2001.34,"v":250},{"s":"A10","t":2001.40,"v":265},{"s":"A10","t":2001.46,"v":245},{"s":"A10","t":2001.51,"v":234},{"s":"A10","t":2001.58,"v":225},{"s":"A10","t":2001.65,"v":221},{"s":"A10","t":2001.72,"v":210},{"s":"A10","t":2001.78,"v":196},{"s":"A10","t":2001.85,"v":210},{"s":"A10","t":2001.92,"v":221},{"s":"A10","t":2001.98,"v":230},
      {"s":"A10","t":2002.05,"v":227},{"s":"A10","t":2002.12,"v":215},{"s":"A10","t":2002.19,"v":202},{"s":"A10","t":2002.28,"v":190},{"s":"A10","t":2002.35,"v":175},{"s":"A10","t":2002.42,"v":159},{"s":"A10","t":2002.49,"v":150},{"s":"A10","t":2002.55,"v":143},{"s":"A10","t":2002.62,"v":138},{"s":"A10","t":2002.69,"v":134},{"s":"A10","t":2002.76,"v":138},{"s":"A10","t":2002.83,"v":140},{"s":"A10","t":2002.90,"v":130},{"s":"A10","t":2002.96,"v":121},
      {"s":"A10","t":2003.03,"v":112},{"s":"A10","t":2003.10,"v":103},{"s":"A10","t":2003.17,"v":95},{"s":"A10","t":2003.24,"v":93},{"s":"A10","t":2003.33,"v":95},{"s":"A10","t":2003.42,"v":97},{"s":"A10","t":2003.51,"v":90},{"s":"A10","t":2003.60,"v":78},{"s":"A10","t":2003.69,"v":82},{"s":"A10","t":2003.78,"v":84},{"s":"A10","t":2003.87,"v":75},{"s":"A10","t":2003.96,"v":65},
      {"s":"A10","t":2004.03,"v":59},{"s":"A10","t":2004.09,"v":96},{"s":"A10","t":2004.18,"v":98},{"s":"A10","t":2004.28,"v":92},{"s":"A10","t":2004.37,"v":85},{"s":"A10","t":2004.46,"v":78},{"s":"A10","t":2004.53,"v":70},{"s":"A10","t":2004.62,"v":66},{"s":"A10","t":2004.71,"v":70},{"s":"A10","t":2004.80,"v":80},{"s":"A10","t":2004.90,"v":90},
      {"s":"A10","t":2005.02,"v":106},{"s":"A10","t":2005.14,"v":111},{"s":"A10","t":2005.24,"v":126},{"s":"A10","t":2005.30,"v":95},{"s":"A10","t":2005.39,"v":74},{"s":"A10","t":2005.48,"v":72},{"s":"A10","t":2005.58,"v":70},{"s":"A10","t":2005.67,"v":74},{"s":"A10","t":2005.76,"v":78},{"s":"A10","t":2005.86,"v":82},{"s":"A10","t":2005.95,"v":85},
      {"s":"A10","t":2006.07,"v":66},{"s":"A10","t":2006.16,"v":60},{"s":"A10","t":2006.26,"v":53},{"s":"A10","t":2006.35,"v":48},{"s":"A10","t":2006.44,"v":42},{"s":"A10","t":2006.53,"v":36},{"s":"A10","t":2006.63,"v":31},{"s":"A10","t":2006.72,"v":26},{"s":"A10","t":2006.81,"v":23},{"s":"A10","t":2006.90,"v":25},
      {"s":"A10","t":2007.00,"v":27},{"s":"A10","t":2007.06,"v":15},{"s":"A10","t":2007.12,"v":10},{"s":"A10","t":2007.18,"v":25},{"s":"A10","t":2007.24,"v":42},{"s":"A10","t":2007.33,"v":52},{"s":"A10","t":2007.43,"v":61},{"s":"A10","t":2007.52,"v":58},{"s":"A10","t":2007.62,"v":59},{"s":"A10","t":2007.71,"v":55},{"s":"A10","t":2007.80,"v":50},{"s":"A10","t":2007.90,"v":52},{"s":"A10","t":2007.99,"v":55},
      {"s":"A10","t":2008.05,"v":40},{"s":"A10","t":2008.11,"v":23},{"s":"A10","t":2008.20,"v":20},{"s":"A10","t":2008.30,"v":18},{"s":"A10","t":2008.39,"v":15},{"s":"A10","t":2008.48,"v":16},{"s":"A10","t":2008.57,"v":10},{"s":"A10","t":2008.67,"v":3},{"s":"A10","t":2008.73,"v":-5},{"s":"A10","t":2008.79,"v":-12},{"s":"A10","t":2008.85,"v":5},{"s":"A10","t":2008.91,"v":23},
      {"s":"A10","t":2009.00,"v":40},{"s":"A10","t":2009.10,"v":57},{"s":"A10","t":2009.20,"v":50},{"s":"A10","t":2009.29,"v":42},{"s":"A10","t":2009.38,"v":55},{"s":"A10","t":2009.47,"v":68},{"s":"A10","t":2009.56,"v":62},{"s":"A10","t":2009.66,"v":70},{"s":"A10","t":2009.78,"v":74},{"s":"A10","t":2009.88,"v":60},{"s":"A10","t":2009.97,"v":44},
      {"s":"A10","t":2010.09,"v":35},{"s":"A10","t":2010.15,"v":40},{"s":"A10","t":2010.21,"v":42},{"s":"A10","t":2010.28,"v":25},{"s":"A10","t":2010.34,"v":10},{"s":"A10","t":2010.43,"v":-3},{"s":"A10","t":2010.52,"v":-16},{"s":"A10","t":2010.62,"v":-24},{"s":"A10","t":2010.71,"v":-29},{"s":"A10","t":2010.80,"v":-27},{"s":"A10","t":2010.89,"v":-25},{"s":"A10","t":2010.98,"v":-20},
      {"s":"A10","t":2011.08,"v":-16},{"s":"A10","t":2011.20,"v":-18},{"s":"A10","t":2011.33,"v":-20},{"s":"A10","t":2011.45,"v":-22},{"s":"A10","t":2011.57,"v":-25},{"s":"A10","t":2011.66,"v":-22},{"s":"A10","t":2011.76,"v":-20},{"s":"A10","t":2011.85,"v":-22},{"s":"A10","t":2011.95,"v":-23},
      {"s":"A10","t":2012.07,"v":-20},{"s":"A10","t":2012.19,"v":-18},{"s":"A10","t":2012.28,"v":-24},{"s":"A10","t":2012.38,"v":-29},{"s":"A10","t":2012.47,"v":-30},{"s":"A10","t":2012.56,"v":-31},{"s":"A10","t":2012.68,"v":-32},{"s":"A10","t":2012.81,"v":-31},{"s":"A10","t":2012.93,"v":-33},
      {"s":"A10","t":2013.06,"v":-35},{"s":"A10","t":2013.18,"v":-34},{"s":"A10","t":2013.30,"v":-36},{"s":"A10","t":2013.43,"v":-33},{"s":"A10","t":2013.50,"v":-30},{"s":"A10","t":2013.57,"v":-28},{"s":"A10","t":2013.66,"v":-33},{"s":"A10","t":2013.76,"v":-39},{"s":"A10","t":2013.85,"v":-32},{"s":"A10","t":2013.95,"v":-24},
      {"s":"A10","t":2014.08,"v":-43},{"s":"A10","t":2014.20,"v":-42},{"s":"A10","t":2014.30,"v":-41},{"s":"A10","t":2014.40,"v":-41},{"s":"A10","t":2014.52,"v":-38},{"s":"A10","t":2014.65,"v":-32},{"s":"A10","t":2014.77,"v":-38},{"s":"A10","t":2014.90,"v":-43},
      {"s":"A10","t":2015.03,"v":-54},{"s":"A10","t":2015.12,"v":-48},{"s":"A10","t":2015.22,"v":-43},{"s":"A10","t":2015.35,"v":-46},{"s":"A10","t":2015.48,"v":-50},{"s":"A10","t":2015.60,"v":-55},{"s":"A10","t":2015.73,"v":-60},{"s":"A10","t":2015.85,"v":-61},{"s":"A10","t":2015.95,"v":-63},
      {"s":"A10","t":2016.05,"v":-62},{"s":"A10","t":2016.18,"v":-61},{"s":"A10","t":2016.30,"v":-60},{"s":"A10","t":2016.43,"v":-58},{"s":"A10","t":2016.56,"v":-56},
      {"s":"A10","t":1997.08,"v":275},{"s":"A10","t":1997.14,"v":268},{"s":"A10","t":1997.22,"v":255},{"s":"A10","t":1997.30,"v":240},{"s":"A10","t":1997.37,"v":215},{"s":"A10","t":1997.50,"v":235},{"s":"A10","t":1997.55,"v":200},{"s":"A10","t":1997.63,"v":225},{"s":"A10","t":1997.70,"v":195},{"s":"A10","t":1997.78,"v":210},{"s":"A10","t":1997.86,"v":190},{"s":"A10","t":1997.95,"v":185},
      {"s":"A10","t":1998.00,"v":160},{"s":"A10","t":1998.03,"v":148},{"s":"A10","t":1998.08,"v":220},{"s":"A10","t":1998.12,"v":230},{"s":"A10","t":1998.27,"v":300},{"s":"A10","t":1998.30,"v":310},{"s":"A10","t":1998.50,"v":350},{"s":"A10","t":1998.58,"v":330},{"s":"A10","t":1998.65,"v":345},{"s":"A10","t":1998.75,"v":360},{"s":"A10","t":1998.80,"v":395},{"s":"A10","t":1998.88,"v":385},{"s":"A10","t":1998.95,"v":370},
      {"s":"A10","t":1999.00,"v":395},{"s":"A10","t":1999.08,"v":365},{"s":"A10","t":1999.14,"v":320},{"s":"A10","t":1999.25,"v":310},{"s":"A10","t":1999.32,"v":350},{"s":"A10","t":1999.40,"v":300},{"s":"A10","t":1999.48,"v":275},{"s":"A10","t":1999.55,"v":255},{"s":"A10","t":1999.72,"v":300},{"s":"A10","t":1999.82,"v":275},{"s":"A10","t":1999.92,"v":310},
      {"s":"A10","t":2000.00,"v":330},{"s":"A10","t":2000.08,"v":320},{"s":"A10","t":2000.20,"v":310},{"s":"A10","t":2000.28,"v":345},{"s":"A10","t":2000.35,"v":330},{"s":"A10","t":2000.45,"v":350},{"s":"A10","t":2000.48,"v":310},{"s":"A10","t":2000.64,"v":255},{"s":"A10","t":2000.72,"v":240},{"s":"A10","t":2000.82,"v":220},{"s":"A10","t":2000.92,"v":200},
      {"s":"A10","t":2001.00,"v":195},{"s":"A10","t":2001.08,"v":185},{"s":"A10","t":2001.15,"v":200},{"s":"A10","t":2001.25,"v":215},{"s":"A10","t":2001.32,"v":240},{"s":"A10","t":2001.44,"v":255},{"s":"A10","t":2001.55,"v":215},{"s":"A10","t":2001.62,"v":230},{"s":"A10","t":2001.70,"v":225},{"s":"A10","t":2001.82,"v":205},{"s":"A10","t":2001.88,"v":215},{"s":"A10","t":2001.95,"v":235},
      {"s":"A10","t":2002.02,"v":215},{"s":"A10","t":2002.08,"v":225},{"s":"A10","t":2002.15,"v":205},{"s":"A10","t":2002.24,"v":195},{"s":"A10","t":2002.38,"v":165},{"s":"A10","t":2002.45,"v":150},{"s":"A10","t":2002.52,"v":135},{"s":"A10","t":2002.60,"v":145},{"s":"A10","t":2002.72,"v":128},{"s":"A10","t":2002.80,"v":130},{"s":"A10","t":2002.86,"v":135},
      {"s":"A10","t":2003.00,"v":110},{"s":"A10","t":2003.07,"v":105},{"s":"A10","t":2003.14,"v":100},{"s":"A10","t":2003.28,"v":88},{"s":"A10","t":2003.38,"v":92},{"s":"A10","t":2003.47,"v":85},{"s":"A10","t":2003.55,"v":88},{"s":"A10","t":2003.65,"v":75},{"s":"A10","t":2003.74,"v":88},{"s":"A10","t":2003.82,"v":78},{"s":"A10","t":2003.92,"v":70},
      {"s":"A10","t":2004.05,"v":80},{"s":"A10","t":2004.13,"v":100},{"s":"A10","t":2004.22,"v":95},{"s":"A10","t":2004.32,"v":90},{"s":"A10","t":2004.42,"v":80},{"s":"A10","t":2004.50,"v":75},{"s":"A10","t":2004.58,"v":62},{"s":"A10","t":2004.66,"v":72},{"s":"A10","t":2004.75,"v":75},{"s":"A10","t":2004.85,"v":85},{"s":"A10","t":2004.95,"v":100},
      {"s":"A10","t":2005.06,"v":112},{"s":"A10","t":2005.10,"v":105},{"s":"A10","t":2005.19,"v":118},{"s":"A10","t":2005.27,"v":115},{"s":"A10","t":2005.34,"v":82},{"s":"A10","t":2005.44,"v":75},{"s":"A10","t":2005.53,"v":67},{"s":"A10","t":2005.62,"v":72},{"s":"A10","t":2005.72,"v":80},{"s":"A10","t":2005.81,"v":75},{"s":"A10","t":2005.90,"v":80},{"s":"A10","t":2006.00,"v":72},
      {"s":"A10","t":2006.11,"v":64},{"s":"A10","t":2006.21,"v":56},{"s":"A10","t":2006.30,"v":50},{"s":"A10","t":2006.40,"v":44},{"s":"A10","t":2006.48,"v":40},{"s":"A10","t":2006.58,"v":33},{"s":"A10","t":2006.68,"v":28},{"s":"A10","t":2006.76,"v":22},{"s":"A10","t":2006.85,"v":20},{"s":"A10","t":2006.95,"v":30},
      {"s":"A10","t":2007.03,"v":20},{"s":"A10","t":2007.09,"v":5},{"s":"A10","t":2007.15,"v":18},{"s":"A10","t":2007.21,"v":35},{"s":"A10","t":2007.28,"v":45},{"s":"A10","t":2007.38,"v":58},{"s":"A10","t":2007.47,"v":65},{"s":"A10","t":2007.57,"v":55},{"s":"A10","t":2007.66,"v":62},{"s":"A10","t":2007.75,"v":52},{"s":"A10","t":2007.85,"v":55},{"s":"A10","t":2007.94,"v":60},
      {"s":"A10","t":2008.02,"v":50},{"s":"A10","t":2008.08,"v":30},{"s":"A10","t":2008.15,"v":25},{"s":"A10","t":2008.25,"v":15},{"s":"A10","t":2008.35,"v":22},{"s":"A10","t":2008.44,"v":12},{"s":"A10","t":2008.53,"v":14},{"s":"A10","t":2008.62,"v":5},{"s":"A10","t":2008.70,"v":0},{"s":"A10","t":2008.76,"v":-8},{"s":"A10","t":2008.82,"v":-3},{"s":"A10","t":2008.88,"v":12},{"s":"A10","t":2008.95,"v":32},
      {"s":"A10","t":2009.05,"v":50},{"s":"A10","t":2009.15,"v":52},{"s":"A10","t":2009.25,"v":45},{"s":"A10","t":2009.33,"v":50},{"s":"A10","t":2009.43,"v":62},{"s":"A10","t":2009.52,"v":65},{"s":"A10","t":2009.61,"v":72},{"s":"A10","t":2009.72,"v":68},{"s":"A10","t":2009.83,"v":66},{"s":"A10","t":2009.92,"v":52},
      {"s":"A10","t":2010.03,"v":40},{"s":"A10","t":2010.12,"v":38},{"s":"A10","t":2010.18,"v":35},{"s":"A10","t":2010.25,"v":32},{"s":"A10","t":2010.31,"v":18},{"s":"A10","t":2010.38,"v":5},{"s":"A10","t":2010.47,"v":-10},{"s":"A10","t":2010.57,"v":-20},{"s":"A10","t":2010.66,"v":-27},{"s":"A10","t":2010.75,"v":-30},{"s":"A10","t":2010.85,"v":-24},{"s":"A10","t":2010.94,"v":-22},
      {"s":"A10","t":2011.03,"v":-18},{"s":"A10","t":2011.14,"v":-20},{"s":"A10","t":2011.26,"v":-17},{"s":"A10","t":2011.39,"v":-22},{"s":"A10","t":2011.51,"v":-24},{"s":"A10","t":2011.62,"v":-20},{"s":"A10","t":2011.71,"v":-24},{"s":"A10","t":2011.81,"v":-18},{"s":"A10","t":2011.90,"v":-20},{"s":"A10","t":2012.00,"v":-22},{"s":"A10","t":2012.13,"v":-22},{"s":"A10","t":2012.24,"v":-20},{"s":"A10","t":2012.33,"v":-26},{"s":"A10","t":2012.43,"v":-28},{"s":"A10","t":2012.52,"v":-33},{"s":"A10","t":2012.62,"v":-30},{"s":"A10","t":2012.75,"v":-33},{"s":"A10","t":2012.87,"v":-30},{"s":"A10","t":2013.00,"v":-33},{"s":"A10","t":2013.12,"v":-36},{"s":"A10","t":2013.24,"v":-33},{"s":"A10","t":2013.36,"v":-35},
      {"s":"A10","t":2013.46,"v":-31},{"s":"A10","t":2013.53,"v":-29},{"s":"A10","t":2013.62,"v":-30},{"s":"A10","t":2013.71,"v":-36},{"s":"A10","t":2013.81,"v":-36},{"s":"A10","t":2013.90,"v":-28},{"s":"A10","t":2014.00,"v":-30},{"s":"A10","t":2014.04,"v":-40},{"s":"A10","t":2014.14,"v":-42},{"s":"A10","t":2014.25,"v":-41},{"s":"A10","t":2014.35,"v":-42},{"s":"A10","t":2014.46,"v":-40},{"s":"A10","t":2014.58,"v":-35},{"s":"A10","t":2014.71,"v":-35},{"s":"A10","t":2014.84,"v":-40},{"s":"A10","t":2014.96,"v":-48},
      {"s":"A10","t":2015.08,"v":-50},{"s":"A10","t":2015.17,"v":-46},{"s":"A10","t":2015.28,"v":-44},{"s":"A10","t":2015.42,"v":-48},{"s":"A10","t":2015.54,"v":-52},{"s":"A10","t":2015.66,"v":-58},{"s":"A10","t":2015.79,"v":-60},{"s":"A10","t":2015.90,"v":-62},{"s":"A10","t":2016.00,"v":-63},{"s":"A10","t":2016.11,"v":-62},{"s":"A10","t":2016.24,"v":-60},{"s":"A10","t":2016.36,"v":-59},{"s":"A10","t":2016.50,"v":-57},
      {"s":"A10","t":2016.60,"v":0},{"s":"A10","t":2016.65,"v":0},{"s":"A10","t":2016.70,"v":0},{"s":"A10","t":2016.75,"v":0},{"s":"A10","t":2016.80,"v":0},{"s":"A10","t":2016.85,"v":0},{"s":"A10","t":2016.90,"v":0},{"s":"A10","t":2016.95,"v":0},
      {"s":"A10","t":2017.00,"v":0},{"s":"A10","t":2017.05,"v":0},{"s":"A10","t":2017.10,"v":0},{"s":"A10","t":2017.15,"v":0},{"s":"A10","t":2017.20,"v":0},{"s":"A10","t":2017.25,"v":0},{"s":"A10","t":2017.30,"v":0},{"s":"A10","t":2017.35,"v":0},{"s":"A10","t":2017.40,"v":0},{"s":"A10","t":2017.45,"v":0},{"s":"A10","t":2017.50,"v":0},{"s":"A10","t":2017.55,"v":0},{"s":"A10","t":2017.60,"v":0},{"s":"A10","t":2017.65,"v":0},{"s":"A10","t":2017.70,"v":0},{"s":"A10","t":2017.75,"v":0},{"s":"A10","t":2017.80,"v":0},{"s":"A10","t":2017.85,"v":0},{"s":"A10","t":2017.90,"v":0},{"s":"A10","t":2017.95,"v":0},
      {"s":"A10","t":2018.00,"v":0},{"s":"A10","t":2018.05,"v":0},{"s":"A10","t":2018.10,"v":0},{"s":"A10","t":2018.15,"v":0},{"s":"A10","t":2018.20,"v":0},{"s":"A10","t":2018.25,"v":0},{"s":"A10","t":2018.30,"v":0},{"s":"A10","t":2018.35,"v":0},{"s":"A10","t":2018.40,"v":0},{"s":"A10","t":2018.45,"v":0},{"s":"A10","t":2018.50,"v":0},{"s":"A10","t":2018.55,"v":0},{"s":"A10","t":2018.60,"v":0},{"s":"A10","t":2018.65,"v":0},{"s":"A10","t":2018.70,"v":0},{"s":"A10","t":2018.75,"v":0},{"s":"A10","t":2018.80,"v":0},{"s":"A10","t":2018.85,"v":0},{"s":"A10","t":2018.90,"v":0},{"s":"A10","t":2018.95,"v":0},
      {"s":"A10","t":2019.00,"v":0},{"s":"A10","t":2019.05,"v":0},{"s":"A10","t":2019.10,"v":0},{"s":"A10","t":2019.15,"v":0},{"s":"A10","t":2019.20,"v":0},{"s":"A10","t":2019.25,"v":0},{"s":"A10","t":2019.30,"v":0},{"s":"A10","t":2019.35,"v":0},{"s":"A10","t":2019.40,"v":0},{"s":"A10","t":2019.45,"v":0},{"s":"A10","t":2019.50,"v":0},{"s":"A10","t":2019.55,"v":0},{"s":"A10","t":2019.60,"v":0},{"s":"A10","t":2019.65,"v":0},{"s":"A10","t":2019.70,"v":0},{"s":"A10","t":2019.75,"v":0},{"s":"A10","t":2019.80,"v":0},{"s":"A10","t":2019.85,"v":0},{"s":"A10","t":2019.90,"v":0},{"s":"A10","t":2019.95,"v":0},
      {"s":"A10","t":2020.00,"v":0},{"s":"A10","t":2020.05,"v":0},{"s":"A10","t":2020.10,"v":0},{"s":"A10","t":2020.15,"v":0},{"s":"A10","t":2020.20,"v":0},{"s":"A10","t":2020.25,"v":0},{"s":"A10","t":2020.30,"v":0},{"s":"A10","t":2020.35,"v":0},{"s":"A10","t":2020.40,"v":0},{"s":"A10","t":2020.45,"v":0},{"s":"A10","t":2020.50,"v":0},{"s":"A10","t":2020.55,"v":0},{"s":"A10","t":2020.60,"v":0},{"s":"A10","t":2020.65,"v":0},{"s":"A10","t":2020.70,"v":0},{"s":"A10","t":2020.75,"v":0},{"s":"A10","t":2020.80,"v":0},{"s":"A10","t":2020.85,"v":0},{"s":"A10","t":2020.90,"v":0},{"s":"A10","t":2020.95,"v":0},
      {"s":"A10","t":2021.00,"v":0},{"s":"A10","t":2021.05,"v":0},{"s":"A10","t":2021.10,"v":0},{"s":"A10","t":2021.15,"v":0},{"s":"A10","t":2021.20,"v":0},{"s":"A10","t":2021.25,"v":0},{"s":"A10","t":2021.30,"v":0},{"s":"A10","t":2021.35,"v":0},{"s":"A10","t":2021.40,"v":0},{"s":"A10","t":2021.45,"v":0},{"s":"A10","t":2021.50,"v":0},{"s":"A10","t":2021.55,"v":0},{"s":"A10","t":2021.60,"v":0},{"s":"A10","t":2021.65,"v":0},{"s":"A10","t":2021.70,"v":0},{"s":"A10","t":2021.75,"v":0},{"s":"A10","t":2021.80,"v":0},{"s":"A10","t":2021.85,"v":0},{"s":"A10","t":2021.90,"v":0},{"s":"A10","t":2021.95,"v":0},
      {"s":"A10","t":2022.00,"v":0},{"s":"A10","t":2022.05,"v":0},{"s":"A10","t":2022.10,"v":0},{"s":"A10","t":2022.15,"v":0},{"s":"A10","t":2022.20,"v":0},{"s":"A10","t":2022.25,"v":0},{"s":"A10","t":2022.30,"v":0},{"s":"A10","t":2022.35,"v":0},{"s":"A10","t":2022.40,"v":0},{"s":"A10","t":2022.45,"v":0},{"s":"A10","t":2022.50,"v":0},{"s":"A10","t":2022.55,"v":0},{"s":"A10","t":2022.60,"v":0},{"s":"A10","t":2022.65,"v":0}
    ]
  },
  "layer": [
    {
      "data": {"values": [{}]},
      "mark": {"type": "rect", "color": "#7DC67E"},
      "encoding": {
        "x": {"datum": 1995.752, "type": "quantitative"},
        "x2": {"datum": 2023.98},
        "y": {"datum": 565.3, "type": "quantitative"},
        "y2": {"datum": 531.4}
      }
    },
    {
      "data": {"values": [{}]},
      "mark": {"type": "text", "font": "Liberation Sans", "fontWeight": "bold", "fontSize": 29.5, "color": "#000000", "align": "center", "baseline": "middle",
        "text": "ADAM Informe. Evolution historique des performances en euros pour des détentions de 4 ans (A04) à 10 ans (A10) avec les revenus connus capitalisés"},
      "encoding": {
        "x": {"datum": 2009.866, "type": "quantitative"},
        "y": {"datum": 547.4, "type": "quantitative"}
      }
    },
    {
      "data": {"values": [{}]},
      "mark": {"type": "rect", "color": "#FFFFFF"},
      "encoding": {
        "x": {"datum": 1999.04, "type": "quantitative"},
        "x2": {"datum": 2020.72},
        "y": {"datum": 514, "type": "quantitative"},
        "y2": {"datum": 430.8}
      }
    },
    {
      "data": {"values": [{}]},
      "mark": {"type": "rect", "color": "#FFFFFF"},
      "encoding": {
        "x": {"datum": 2018.77, "type": "quantitative"},
        "x2": {"datum": 2023.6},
        "y": {"datum": 441, "type": "quantitative"},
        "y2": {"datum": 274}
      }
    },
    {
      "data": {"values": [{}]},
      "mark": {"type": "text", "font": "Liberation Sans", "fontSize": 26, "color": "#595959", "align": "center", "baseline": "top", "lineHeight": 43,
        "text": ["Performance par rapport à l'indice S&P 500 INDEX GROSS TR  du placement Essex Property Trust Inc en fonction de la date de début pour des", "durées", "entre 4 (A04) et 10 ans (A10). Cotations entre janv. 1997 et juil. 2026. Revenus CAPITALISES depuis mars. 199"]},
      "encoding": {
        "x": {"datum": 2009.866, "type": "quantitative"},
        "y": {"datum": 511.5, "type": "quantitative"}
      }
    },
    {
      "transform": [{"filter": "datum.s == '0,0%'"}],
      "mark": {"type": "line", "strokeWidth": 6},
      "encoding": {
        "x": {"field": "t", "type": "quantitative"},
        "y": {"field": "v", "type": "quantitative"},
        "color": {"field": "s", "type": "nominal"}
      }
    },
    {
      "transform": [{"filter": "datum.s != '0,0%'"}],
      "mark": {"type": "point", "filled": false, "size": 110, "opacity": 1},
      "encoding": {
        "x": {
          "field": "t", "type": "quantitative",
          "scale": {"domain": [1997, 2023], "nice": false, "zero": false},
          "axis": {
            "title": null, "values": [1997, 1999, 2001, 2003, 2005, 2007, 2009, 2011, 2013, 2015, 2017, 2019, 2021],
            "labelExpr": "'01/01/' + datum.value", "grid": true, "ticks": false,
            "domainColor": "#D9D9D9", "domainWidth": 2, "labelPadding": 22, "labelFontSize": 21
          }
        },
        "y": {
          "field": "v", "type": "quantitative",
          "scale": {"domain": [-100, 500], "nice": false},
          "axis": {
            "title": null, "values": [-100, 0, 100, 200, 300, 400, 500],
            "labelExpr": "datum.value == -100 ? '- 100%' : datum.value + '%'", "grid": true, "ticks": false,
            "domain": false, "labelPadding": 19, "labelFontSize": 20
          }
        },
        "color": {
          "field": "s", "type": "nominal",
          "scale": {"domain": ["A04", "A07", "A10", "0,0%"], "range": ["#FFC000", "#0070C0", "#FF0000", "#000000"]},
          "legend": {
            "orient": "none", "legendX": 1750, "legendY": 90, "title": null,
            "fillColor": "#FFFFFF", "padding": 20, "rowPadding": 38, "labelOffset": 26, "labelLimit": 0,
            "labelFontSize": 27, "labelColor": "#595959", "symbolSize": 72, "symbolStrokeWidth": 2,
            "labelExpr": "datum.value == '0,0%' ? '0,0%' : 'Rendement_' + datum.value"
          }
        },
        "shape": {
          "field": "s", "type": "nominal",
          "scale": {"domain": ["A04", "A07", "A10", "0,0%"], "range": ["M-1,0H1M0,-1V1", "M-1,0H1M0,-1V1", "M-1,0H1M0,-1V1", "M-5.76,-0.59H5.76M-5.76,-0.2H5.76M-5.76,0.2H5.76M-5.76,0.59H5.76"]}
        },
        "strokeWidth": {"condition": {"test": "datum.s == 'A04'", "value": 1.8}, "value": 2.6}
      }
    }
  ],
  "config": {
    "view": {"stroke": null},
    "axis": {
      "labelFont": "Liberation Sans",
      "labelColor": "#595959",
      "gridColor": "#D9D9D9",
      "gridWidth": 1.5,
      "labelFlush": false,
      "labelOverlap": false
    },
    "legend": {
      "labelFont": "Liberation Sans"
    }
  }
}
